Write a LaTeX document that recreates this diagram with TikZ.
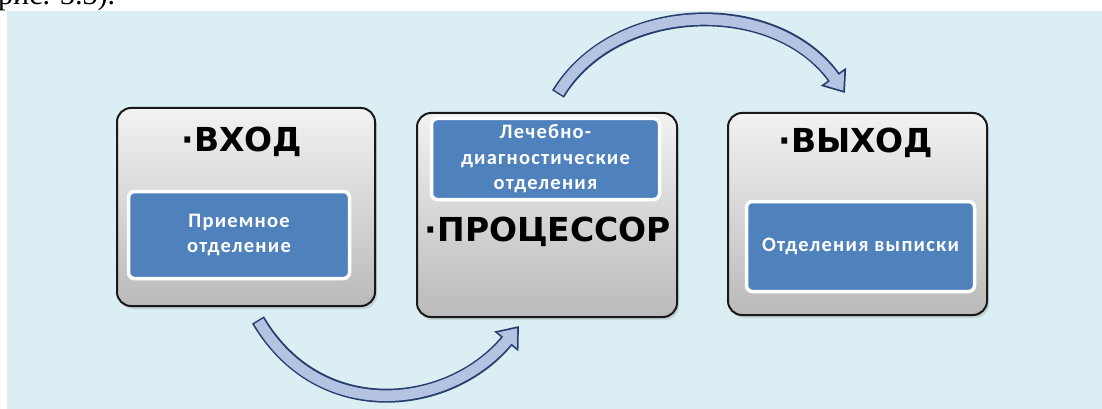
\documentclass[tikz,border=0pt]{standalone}
\usepackage{fontspec}
\setmainfont{Liberation Serif}
\newfontfamily\titlefont{DejaVu Sans}
\newfontfamily\boxfont{Carlito}[LetterSpace=6]
\usetikzlibrary{arrows.meta,shadows}
\definecolor{bgblue}{HTML}{DAEEF3}
\definecolor{boxblue}{HTML}{4F81BD}
\definecolor{arrowline}{HTML}{263E6E}
\definecolor{arrowfill}{HTML}{B4C3E1}
\definecolor{boxtop}{HTML}{F2F2F2}
\definecolor{boxbot}{HTML}{BABABA}
\tikzset{
  mainbox/.style={draw=black!90, line width=2pt, rounded corners=14pt,
    top color=boxtop, bottom color=boxbot, inner sep=0pt,
    drop shadow={shadow xshift=2pt, shadow yshift=-3pt, opacity=0.25}},
  innerbox/.style={fill=boxblue, draw=white, line width=3.5pt, rounded corners=6pt,
    inner sep=0pt, text=white, align=center,
    font=\boxfont\bfseries\fontsize{20.5}{25.5}\selectfont},
  titletext/.style={font=\titlefont\bfseries\fontsize{33}{36}\selectfont, inner sep=0pt},
  arrowout/.style={draw=arrowline, line width=14pt, -{Triangle[width=30pt,length=20pt]}},
  arrowin/.style={draw=arrowfill, line width=10.6pt, shorten >=2.8pt, shorten <=1.5pt,
    -{Triangle[width=23.2pt,length=15.5pt]}},
}
\begin{document}
\begin{tikzpicture}[x=1pt,y=-1pt]
\useasboundingbox (0,0) rectangle (1102,409);
% cut-off line of text above the picture
\begin{scope}
\clip (0,0) rectangle (1102,11);
\node[anchor=base west, inner sep=0pt, font=\fontsize{30}{32}\selectfont] (cut) at (-2,4.5) {рис. 3.3).};
\end{scope}
% background
\fill[bgblue] (7,11) rectangle (1102,409);

% main boxes
\node[mainbox, minimum width=258pt, minimum height=198pt] (in) at (246,207) {};
\node[mainbox, minimum width=260pt, minimum height=204pt] (proc) at (547,215) {};
\node[mainbox, minimum width=259pt, minimum height=202pt] (out) at (857.5,214) {};

% inner blue boxes
\node[innerbox, minimum width=221pt, minimum height=87pt] (inb) at (239,235) {Приемное\\отделение};
\node[innerbox, minimum width=228pt, minimum height=81pt] (procb) at (545.5,159) {Лечебно-\\диагностические\\отделения};
\node[innerbox, minimum width=228pt, minimum height=90pt] (outb) at (860.5,246.5) {Отделения выписки};

% titles
\node[titletext] (tin) at (242,142) {·ВХОД};
\node[titletext] (tproc) at (548,232) {·ПРОЦЕССОР};
\node[titletext] (tout) at (856,143) {·ВЫХОД};

% curved arrows
\coordinate (a1s) at (258,320);
\coordinate (a1e) at (519,326);
\coordinate (a2s) at (558,94);
\coordinate (a2e) at (845,93);
\draw[arrowout] (a1s) .. controls (320,425) and (450,410) .. (a1e);
\draw[arrowin]  (a1s) .. controls (320,425) and (450,410) .. (a1e);
\draw[arrowout] (a2s) .. controls (615,0) and (775,-5) .. (a2e);
\draw[arrowin]  (a2s) .. controls (615,0) and (775,-5) .. (a2e);
\end{tikzpicture}
\end{document}
